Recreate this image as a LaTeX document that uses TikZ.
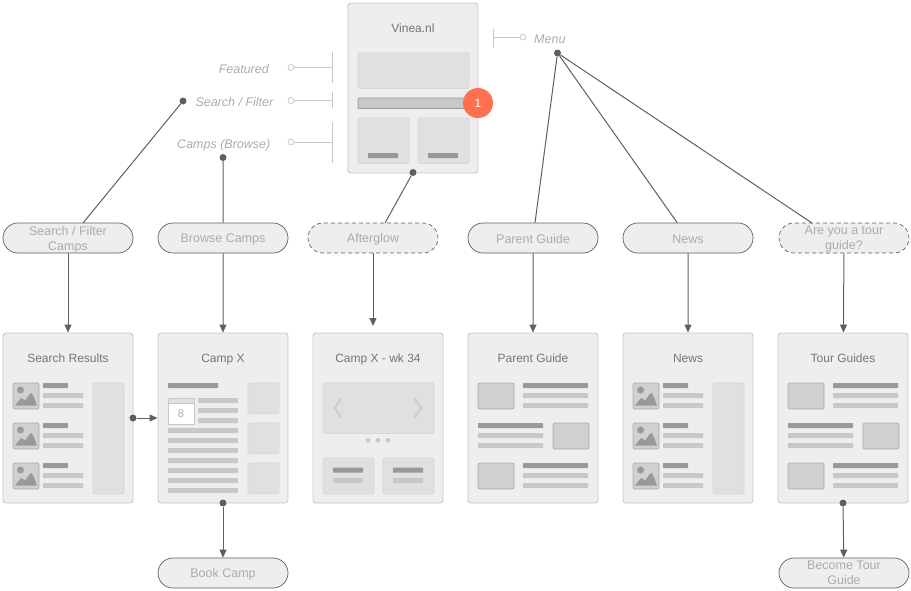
\documentclass[tikz,border=0pt]{standalone}
\usepackage{fontspec}
\setmainfont{Liberation Sans}
\usetikzlibrary{arrows.meta,shapes.misc}

\definecolor{screenfill}{HTML}{EEEEEE}
\definecolor{screenline}{HTML}{C8C8C8}
\definecolor{panelfill}{HTML}{E0E0E0}
\definecolor{panelline}{HTML}{D6D6D6}
\definecolor{thumbfill}{HTML}{D0D0D0}
\definecolor{thumbline}{HTML}{ABABAB}
\definecolor{bardark}{HTML}{99999D}
\definecolor{barlight}{HTML}{C8C8CA}
\definecolor{inktext}{HTML}{757575}
\definecolor{softtext}{HTML}{ABABAB}
\definecolor{linkline}{HTML}{5F5F5F}
\definecolor{chevron}{HTML}{CDCDCD}
\definecolor{badgefill}{HTML}{FF7050}

\tikzset{
  screen/.style={draw=screenline, fill=screenfill, line width=0.9pt, rounded corners=3pt, minimum width=130pt, minimum height=170pt, inner sep=0pt},
  screentitle/.style={text=inktext, anchor=base, font=\fontsize{12}{14}\selectfont, inner sep=0pt},
  pill/.style={rounded rectangle, draw=linkline, fill=screenfill, line width=0.7pt, minimum width=130pt, minimum height=30pt, inner sep=0pt, text=softtext, font=\fontsize{12.5}{15}\selectfont, execute at begin node={\rule{0pt}{12pt}}, execute at end node={\rule[-2pt]{0pt}{2pt}}},
  maybepill/.style={pill, dash pattern=on 4pt off 3pt},
  pilltext/.style={inner sep=0pt, text=softtext, align=center, font=\fontsize{12.5}{15}\selectfont, yshift=-1.3pt, execute at end node={\rule[-2.6pt]{0pt}{2.6pt}}},
  note/.style={text=softtext, font=\itshape\fontsize{12.5}{15}\selectfont, inner sep=0pt},
  dot/.style={circle, fill=linkline, minimum size=7pt, inner sep=0pt},
  ring/.style={circle, draw=screenline, fill=white, line width=0.8pt, minimum size=6pt, inner sep=0pt},
  link/.style={draw=linkline, line width=1pt},
  bracket/.style={draw=screenline, line width=0.9pt},
  panel/.style={draw=panelline, fill=panelfill, line width=0.7pt, rounded corners=2pt},
  thumb/.style={draw=thumbline, fill=thumbfill, line width=0.7pt, rounded corners=2pt},
  darkbar/.style={fill=bardark, rounded corners=0.6pt},
  lightbar/.style={fill=barlight, rounded corners=0.6pt},
}

% one text block: dark bar and two light bars
\newcommand{\textblock}[3]{%
  \fill[darkbar] (#1,#2) rectangle ++(#3,5);
  \fill[lightbar] (#1,#2+10) rectangle ++(#3,5);
  \fill[lightbar] (#1,#2+20) rectangle ++(#3,5);
}
% the list screens: picture, short bars, side panel
\newcommand{\listscreen}[1]{%
  \begin{scope}[shift={(#1,0)}]
    \foreach \y in {383,423,463} {
      \draw[thumb] (13,\y) rectangle ++(26,26);
      \fill[bardark] (20.5,\y+7) circle (3.5);
      \fill[bardark] plot[smooth] coordinates {(15,\y+22.5) (21.5,\y+15) (25,\y+17.5) (31.5,\y+10) (37,\y+22.5)} -- cycle;
      \fill[darkbar] (43,\y) rectangle ++(25,5);
      \fill[lightbar] (43,\y+10) rectangle ++(40,5);
      \fill[lightbar] (43,\y+20) rectangle ++(40,5);
    }
    \draw[panel] (93,383) rectangle (124,494);
  \end{scope}
}
% the guide screens: alternating blocks
\newcommand{\guidescreen}[1]{%
  \begin{scope}[shift={(#1,0)}]
    \draw[thumb] (478,383) rectangle ++(36,26);
    \textblock{523}{383}{65}
    \textblock{478}{423}{65}
    \draw[thumb] (553,423) rectangle ++(36,26);
    \draw[thumb] (478,463) rectangle ++(36,26);
    \textblock{523}{463}{65}
  \end{scope}
}

\begin{document}
\begin{tikzpicture}[x=1pt, y=-1pt, >={Triangle[length=8pt,width=7pt]}]
  \useasboundingbox (0,0) rectangle (911,590);

  % Pantallas
  \foreach \name/\cx/\cap in {results/68/Search Results, camp/223/Camp X, week/378/Camp X - wk 34, parent/533/Parent Guide, news/688/News, tour/843/Tour Guides} {
    \node [screen] (\name) at (\cx,418) {};
    \node [screentitle] (\name-title) at (\cx,362.3) {\cap};
  }
  \node [screen] (home) at (413,88) {};
  \node [screentitle] (home-title) at (413,32) {Vinea.nl};

  % Contenido de inicio
  \draw[panel] (358,53) rectangle (469,88.5);
  \draw[draw=bardark, fill=barlight, line width=0.8pt, rounded corners=1pt] (358,98) rectangle (466,108.5);
  \foreach \x in {358,418} {
    \draw[panel] (\x,118) rectangle ++(51,45.5);
    \fill[darkbar] (\x+10,153) rectangle ++(30,5);
  }
  \node [circle, fill=badgefill, minimum size=30pt, inner sep=0pt, text=white, font=\fontsize{12}{14}\selectfont] (badge) at (478,103) {1};

  % Contenido de listas y guias
  \listscreen{0}
  \listscreen{620}
  \guidescreen{0}
  \guidescreen{310}

  % Contenido de Camp X
  \fill[darkbar] (168,383) rectangle ++(50,5);
  \draw[draw=screenline, fill=white, line width=0.8pt] (168,398) rectangle (194,424);
  \draw[draw=screenline, fill=panelfill, line width=0.8pt] (168,398) rectangle (194,403.5);
  \node [text=softtext, font=\fontsize{11}{13}\selectfont, inner sep=0pt] (calendar-day) at (181,414) {8};
  \foreach \y in {398,408,418}
  \fill[lightbar] (198,\y) rectangle ++(40,5);
  \foreach \y in {428,438,...,488}
  \fill[lightbar] (168,\y) rectangle ++(70,5);
  \foreach \y in {383,423,463}
  \draw[panel] (248,\y) rectangle ++(31,30.5);

  % Contenido de Camp X - wk 34
  \draw[panel] (323,383) rectangle (434,433.5);
  \draw[draw=chevron, line width=2.2pt] (341.5,398.5) -- (334.5,408) -- (341.5,417.5);
  \draw[draw=chevron, line width=2.2pt] (414.5,398.5) -- (421.5,408) -- (414.5,417.5);
  \foreach \x in {368,378,388}
  \fill[barlight] (\x,440.3) circle (2.3);
  \foreach \x in {323,383} {
    \draw[panel] (\x,458) rectangle ++(51,36);
    \fill[darkbar] (\x+10,467.7) rectangle ++(30,5);
    \fill[lightbar] (\x+10,478) rectangle ++(30,5);
  }

  % Notas
  \node [note, anchor=base east] (featured-note) at (269,73) {Featured};
  \node [note, anchor=base east] (search-note) at (273.5,106) {Search / Filter};
  \node [note, anchor=base east] (browse-note) at (270.5,148) {Camps (Browse)};
  \node [note, anchor=base west] (menu-note) at (534,43.3) {Menu};

  % Marcas de las notas
  \foreach \name/\ya/\yb/\ym in {featured/52/83/67.5, search/92/108/100.5, browse/122/163/142} {
    \node [ring] (\name-ring) at (291,\ym) {};
    \coordinate (\name-tick) at (332.5,\ym);
    \draw[bracket] (\name-ring) -- (\name-tick);
    \draw[bracket] (332.5,\ya) -- (332.5,\yb);
  }
  \node [ring] (menu-ring) at (523,37) {};
  \coordinate (menu-tick) at (493.5,37);
  \draw[bracket] (menu-ring) -- (menu-tick);
  \draw[bracket] (493.5,29) -- (493.5,48);

  % Conexiones de las notas a las pastillas
  \coordinate (search-in) at (83,223);
  \coordinate (after-in) at (385,223);
  \coordinate (askguide-in) at (812,223);
  \coordinate (week-in) at (373,326);

  \node [dot] (search-dot) at (183,101) {};
  \node [dot] (browse-dot) at (223,157.5) {};
  \node [dot] (home-dot) at (413,172.5) {};
  \node [dot] (menu-dot) at (557.5,53) {};
  \node [dot] (results-dot) at (133,418) {};
  \node [dot] (camp-dot) at (223,503) {};
  \node [dot] (tour-dot) at (843,503) {};

  % Pastillas
  \node [pill] (search-pill) at (68,238) {};
  \node [pilltext] (search-pill-text) at (68,238) {Search / Filter\\Camps};
  \node [pill] (browse-pill) at (223,238) {Browse Camps};
  \node [maybepill] (after-pill) at (373,238) {Afterglow};
  \node [pill] (parent-pill) at (533,238) {Parent Guide};
  \node [pill] (news-pill) at (688,238) {News};
  \node [maybepill] (askguide-pill) at (844,238) {};
  \node [pilltext] (askguide-pill-text) at (844,238) {Are you a tour\\guide?};
  \node [pill] (book-pill) at (223,573) {Book Camp};
  \node [pill] (become-pill) at (844,573) {};
  \node [pilltext] (become-pill-text) at (844,573) {Become Tour\\Guide};

  \draw [link] (search-dot) -- (search-in);
  \draw [link] (browse-dot) -- (browse-pill);
  \draw [link] (home-dot) -- (after-in);
  \draw [link] (menu-dot) -- (parent-pill);
  \draw [link] (menu-dot) -- (news-pill);
  \draw [link] (menu-dot) -- (askguide-in);

  % Conexiones de las pastillas a las pantallas
  \draw [link, ->] (search-pill) -- (results);
  \draw [link, ->] (browse-pill) -- (camp);
  \draw [link, ->] (after-pill) -- (week-in);
  \draw [link, ->] (parent-pill) -- (parent);
  \draw [link, ->] (news-pill) -- (news);
  \draw [link, ->] (askguide-pill) -- (tour);
  \draw [link, ->] (results-dot) -- (camp);
  \draw [link, ->] (camp-dot) -- (book-pill);
  \draw [link, ->] (tour-dot) -- (become-pill);

\end{tikzpicture}
\end{document}
